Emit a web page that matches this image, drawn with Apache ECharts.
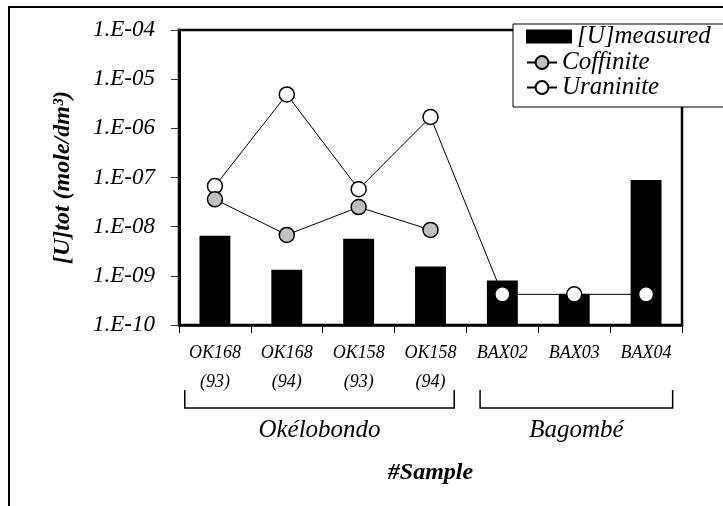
<!DOCTYPE html>
<html><head><meta charset="utf-8">
<script src="https://cdn.jsdelivr.net/npm/echarts@6/dist/echarts.min.js"></script>
<style>html,body{margin:0;padding:0;background:#fff}#c{width:723px;height:506px}</style>
</head><body><div id="c"></div>
<script>
const categories = ['OK168\n(93)', 'OK168\n(94)', 'OK158\n(93)', 'OK158\n(94)', 'BAX02', 'BAX03', 'BAX04'];
const measured = [6.5e-9, 1.33e-9, 5.7e-9, 1.55e-9, 8.0e-10, 4.3e-10, 8.9e-8];
const coffinite = [3.6e-8, 6.8e-9, 2.5e-8, 8.6e-9, null, null, null];
const uraninite = [6.7e-8, 4.9e-6, 5.8e-8, 1.7e-6, 4.2e-10, 4.2e-10, 4.2e-10];
const yTickValues = [1e-10, 1e-9, 1e-8, 1e-7, 1e-6, 1e-5, 1e-4];
const yTickLabels = ['1.E-10', '1.E-09', '1.E-08', '1.E-07', '1.E-06', '1.E-05', '1.E-04'];
const groupNames = ['Okélobondo', 'Bagombé'];
const groupFrom = [0, 4];
const groupTo = [3, 6];

const FONT = "'Liberation Serif','Times New Roman',serif";
const chart = echarts.init(document.getElementById('c'), null, {renderer: 'canvas'});

function yLabel(v) {
  const lv = Math.log10(v);
  let best = 0, bd = Infinity;
  yTickValues.forEach((t, i) => { const d = Math.abs(Math.log10(t) - lv); if (d < bd) { bd = d; best = i; } });
  return yTickLabels[best];
}

const option = {
  animation: false,
  backgroundColor: '#fff',
  grid: {left: 179, right: 41, top: 30, bottom: 181, show: true, borderColor: '#000', borderWidth: 2.5, backgroundColor: '#fff'},
  xAxis: {
    type: 'category', data: categories, boundaryGap: true,
    axisLine: {show: true, lineStyle: {color: '#000', width: 2.5}},
    axisTick: {show: true, length: 8, lineStyle: {color: '#000', width: 1}},
    axisLabel: {interval: 0, fontFamily: FONT, fontStyle: 'italic', fontSize: 18, lineHeight: 29, color: '#000', margin: 14},
    name: '#Sample', nameLocation: 'middle', nameGap: 136,
    nameTextStyle: {fontFamily: FONT, fontStyle: 'italic', fontWeight: 'bold', fontSize: 24, color: '#000'}
  },
  yAxis: {
    type: 'log', logBase: 10, min: 1e-10, max: 1e-4, startValue: 1e-10,
    axisLine: {show: true, lineStyle: {color: '#000', width: 3}},
    axisTick: {show: true, length: 8, lineStyle: {color: '#333', width: 1}},
    splitLine: {show: false},
    axisLabel: {formatter: yLabel, fontFamily: FONT, fontStyle: 'italic', fontSize: 23, color: '#000', margin: 24},
    name: '[U]tot (mole/dm³)', nameLocation: 'middle', nameRotate: 90, nameGap: 104,
    nameTextStyle: {fontFamily: FONT, fontStyle: 'italic', fontWeight: 'bold', fontSize: 24, color: '#000'}
  },
  legend: [
    {data: [{name: '[U]measured', icon: 'rect'}], left: 526, top: 24, padding: 0, itemWidth: 46, itemHeight: 14, z: 20,
     textStyle: {fontFamily: FONT, fontStyle: 'italic', fontSize: 25, color: '#000'}},
    {data: ['Coffinite', 'Uraninite'], orient: 'vertical', left: 526, top: 50, padding: 0, itemGap: 0,
     itemWidth: 30, itemHeight: 16, z: 20,
     textStyle: {fontFamily: FONT, fontStyle: 'italic', fontSize: 25, color: '#000'}}
  ],
  series: [
    {name: '[U]measured', type: 'bar', data: measured, barWidth: '43%', itemStyle: {color: '#000'}, z: 2},
    {name: 'Uraninite', type: 'line', data: uraninite, symbol: 'circle', symbolSize: 15, showAllSymbol: true, z: 3,
     itemStyle: {color: '#fff', borderColor: '#000', borderWidth: 1.5}, lineStyle: {color: '#000', width: 1}},
    {name: 'Coffinite', type: 'line', data: coffinite, symbol: 'circle', symbolSize: 15, showAllSymbol: true, z: 4,
     itemStyle: {color: '#c0c0c0', borderColor: '#000', borderWidth: 1.5}, lineStyle: {color: '#000', width: 1}}
  ]
};
chart.setOption(option);

const px = i => chart.convertToPixel({xAxisIndex: 0}, i);
const step = px(1) - px(0);
const gfx = [
  {type: 'rect', z: 0, silent: true, shape: {x: 9, y: 7, width: 760, height: 560}, style: {fill: 'none', stroke: '#000', lineWidth: 2}},
  {type: 'rect', z: 10, silent: true, shape: {x: 513, y: 24, width: 240, height: 83}, style: {fill: '#fff', stroke: '#000', lineWidth: 1}}
];
const leftOff = [-0.42, -0.31];
const rightOff = [0.33, 0.37];
groupNames.forEach((g, k) => {
  const x1 = px(groupFrom[k]) + leftOff[k] * step;
  const x2 = px(groupTo[k]) + rightOff[k] * step;
  gfx.push({type: 'polyline', silent: true, z: 5, shape: {points: [[x1, 390], [x1, 408], [x2, 408], [x2, 390]]},
            style: {fill: 'none', stroke: '#000', lineWidth: 1.5}});
  gfx.push({type: 'text', silent: true, z: 5, x: (x1 + x2) / 2, y: 430,
            style: {text: g, font: 'italic 25px ' + FONT, fill: '#000', align: 'center', verticalAlign: 'middle'}});
});
chart.setOption({graphic: gfx});
</script></body></html>
